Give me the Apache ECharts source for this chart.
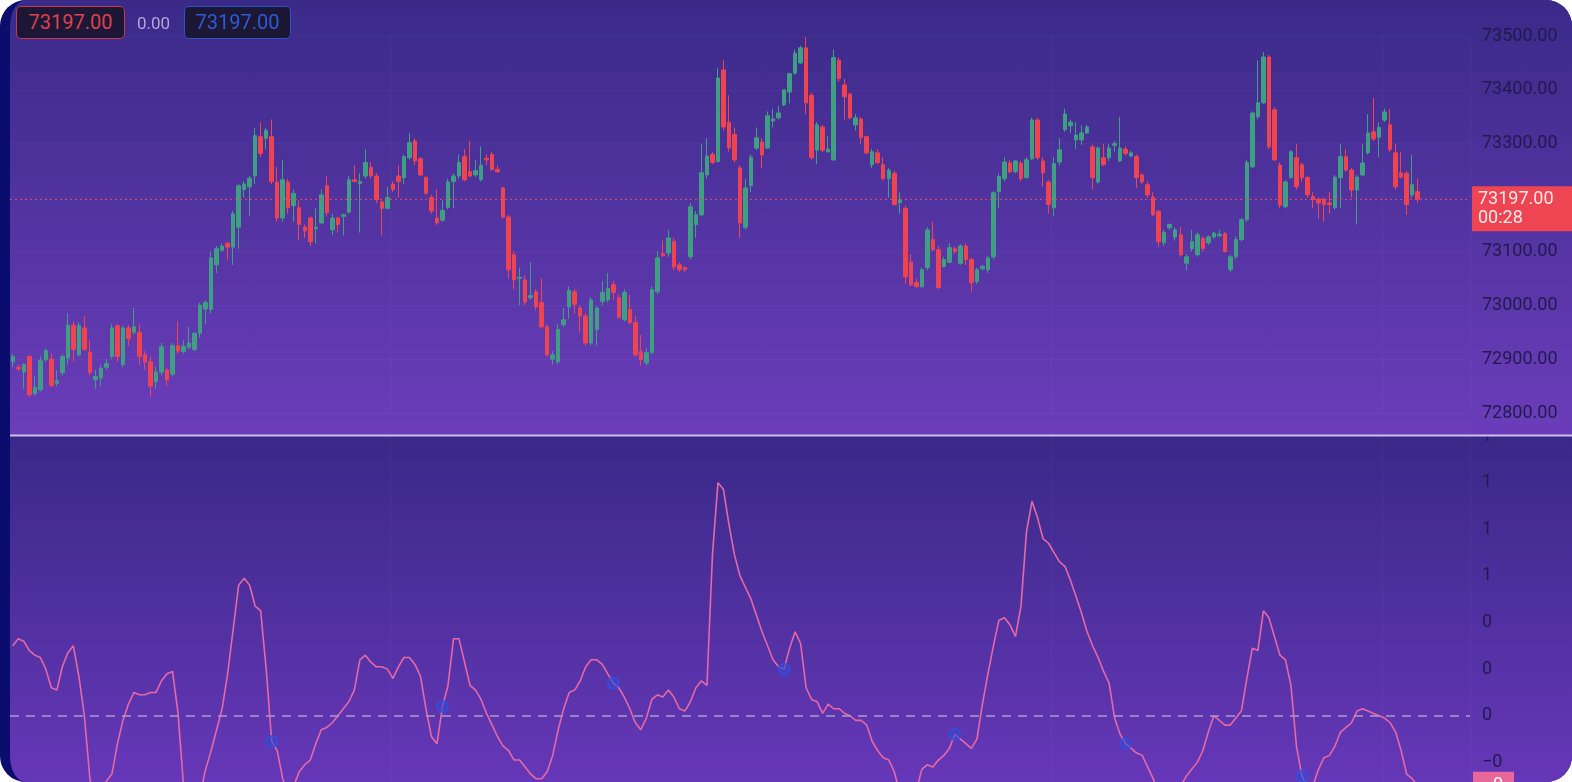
<!DOCTYPE html>
<html>
<head>
<meta charset="utf-8">
<script src="https://cdn.jsdelivr.net/npm/echarts@6/dist/echarts.min.js"></script>
<style>
  html, body { margin: 0; padding: 0; background: #ffffff; }
  #wrap {
    position: absolute; left: 0; top: 0; width: 1572px; height: 782px;
    box-sizing: border-box; border-left: 10px solid #0a0d6e;
    border-radius: 26px; overflow: hidden; background: #0a0d6e;
  }
  #topbg { position: absolute; left: 0; top: 0; width: 1562px; height: 436px;
    background: linear-gradient(180deg, #3a2a88 0%, #6b3dba 100%); }
  #botbg { position: absolute; left: 0; top: 436px; width: 1562px; height: 346px;
    background: linear-gradient(180deg, #392987 0%, #6637b8 100%); }
  #chart { position: absolute; left: 0; top: 0; width: 1562px; height: 782px; }
  .box { position: absolute; top: 6px; height: 31px; border-radius: 5px; background: #1b1734;
    font-family: Roboto, "Noto Sans", sans-serif; font-size: 20px; line-height: 31px; text-align: center; }
  #b1 { left: 6px; width: 107px; border: 1.5px solid #c23a4c; color: #de4150; }
  #b2 { left: 174px; width: 105px; border: 1.5px solid #2d52c4; color: #2f5bd6; }
  #chg { position: absolute; left: 127px; top: 6px; height: 34px; line-height: 34px;
    font-family: Roboto, "Noto Sans", sans-serif; font-size: 17px; color: #b3a6d8; }
</style>
</head>
<body>
<div id="wrap">
  <div id="topbg"></div>
  <div id="botbg"></div>
  <div id="chart"></div>
  <div class="box" id="b1"></div>
  <div id="chg"></div>
  <div class="box" id="b2"></div>
</div>
<script>
// ---------- DATA ----------
const lastPrice = 73197;
const priceChange = 0.00;
const timerText = '00:28';
const priceTicks = [72800, 72900, 73000, 73100, 73200, 73300, 73400, 73500];
const oscTicks = [-0.4, -0.2, 0, 0.2, 0.4, 0.6, 0.8, 1.0, 1.2];
const emptySlots = 9;

// [open, close, low, high]
const candles = [
[72895,72905,72885,72910],[72885,72882,72878,72890],[72876,72890,72845,72892],[72905,72834,72830,72907],
[72836,72848,72832,72870],[72843,72898,72840,72905],[72899,72916,72895,72920],[72900,72851,72848,72910],
[72855,72860,72850,72880],[72875,72905,72870,72910],[72902,72963,72890,72985],[72963,72918,72895,72970],
[72908,72963,72905,72968],[72958,72918,72915,72980],[72913,72875,72870,72935],[72862,72868,72845,72880],
[72865,72883,72850,72890],[72885,72892,72880,72900],[72905,72958,72900,72965],[72962,72905,72895,72965],
[72890,72958,72885,72962],[72958,72938,72925,72963],[72950,72960,72945,72995],[72950,72905,72890,72965],
[72908,72895,72880,72915],[72895,72850,72830,72905],[72858,72876,72845,72885],[72876,72923,72870,72930],
[72880,72862,72850,72885],[72872,72925,72868,72930],[72925,72915,72910,72970],[72914,72924,72910,72935],
[72922,72930,72918,72960],[72918,72948,72915,72950],[72948,73000,72940,73005],[72993,73005,72965,73010],
[72992,73088,72985,73100],[73075,73105,73060,73110],[73102,73110,73100,73115],[73115,73108,73085,73118],
[73108,73170,73075,73175],[73145,73222,73105,73225],[73215,73225,73200,73230],[73220,73236,73165,73240],
[73240,73315,73225,73330],[73313,73282,73275,73340],
[73310,73325,73290,73330],[73313,73230,73225,73345],[73229,73162,73155,73257],[73162,73233,73155,73270],
[73229,73181,73170,73235],[73185,73208,73155,73215],[73181,73150,73120,73195],[73145,73138,73125,73150],
[73162,73118,73110,73165],[73142,73145,73115,73180],[73153,73205,73150,73215],[73222,73172,73165,73240],
[73140,73162,73130,73170],[73162,73150,73135,73165],[73165,73168,73130,73170],[73173,73233,73170,73240],
[73233,73230,73228,73260],[73226,73230,73135,73245],[73240,73265,73235,73290],[73256,73240,73235,73265],
[73240,73196,73190,73245],[73192,73180,73130,73195],[73180,73200,73178,73220],[73225,73215,73210,73230],
[73240,73230,73200,73260],[73237,73276,73225,73280],[73274,73302,73270,73320],[73305,73268,73260,73310],
[73272,73242,73240,73275],[73237,73208,73205,73240],[73200,73175,73170,73205],[73162,73153,73148,73215],
[73158,73176,73155,73195],[73182,73229,73178,73235],[73230,73240,73180,73245],[73240,73265,73235,73280],
[73276,73233,73230,73290],[73248,73240,73238,73305],[73242,73250,73238,73270],[73233,73260,73230,73295],
[73273,73270,73260,73280],[73280,73252,73250,73285],[73252,73248,73245,73260],[73218,73164,73160,73220],
[73164,73066,73050,73168],
[73094,73047,73030,73100],[73050,73052,73000,73070],[73047,73006,73000,73055],[73014,73018,73010,73080],
[73025,72997,72990,73030],[73005,72960,72958,73050],[72960,72908,72905,72965],[72900,72908,72890,72915],
[72895,72955,72890,72965],[72964,72973,72960,72995],[72997,73028,72975,73035],[73025,73002,72985,73030],
[72995,72980,72950,73000],[72980,72930,72925,72985],[72930,73010,72925,73015],[72955,72995,72925,72998],
[73007,73024,73000,73045],[73010,73031,73005,73060],[73038,73024,73010,73045],[73014,72977,72975,73020],
[72973,73024,72970,73030],[72992,72968,72965,73020],[72968,72908,72905,72980],[72914,72899,72888,72945],
[72893,72912,72888,72920],[72912,73029,72910,73035],[73025,73088,73020,73100],[73096,73092,73090,73120],
[73097,73125,73090,73140],[73118,73071,73065,73125],[73075,73066,73062,73080],[73070,73066,73062,73072],
[73090,73183,73085,73190],[73150,73168,73125,73175],[73168,73246,73165,73300],[73242,73277,73235,73310],
[73280,73265,73262,73285],[73267,73422,73265,73440],[73437,73331,73325,73455],[73340,73292,73285,73390],
[73317,73270,73265,73330],[73255,73153,73125,73260],
[73145,73218,73140,73235],[73222,73275,73210,73280],[73292,73311,73288,73330],[73303,73279,73255,73310],
[73292,73352,73290,73360],[73342,73346,73330,73365],[73348,73357,73345,73370],[73372,73400,73370,73400],
[73396,73430,73375,73432],[73431,73468,73428,73475],[73450,73478,73448,73482],[73478,73376,73355,73498],
[73390,73274,73270,73395],[73288,73335,73262,73340],[73331,73288,73285,73335],[73285,73290,73283,73315],
[73270,73460,73268,73475],[73455,73421,73415,73460],[73409,73387,73345,73420],[73392,73348,73345,73395],
[73335,73348,73325,73355],[73346,73311,73300,73350],[73313,73283,73280,73315],[73261,73285,73255,73290],
[73283,73265,73262,73290],[73261,73235,73232,73275],[73235,73251,73200,73255],[73245,73187,73185,73250],
[73191,73196,73170,73210],[73180,73053,73040,73185],[73080,73038,73035,73095],[73042,73035,73032,73050],
[73035,73066,73032,73070],[73070,73140,73065,73145],[73122,73103,73100,73155],[73103,73033,73030,73110],
[73072,73085,73070,73090],[73080,73107,73078,73115],[73105,73100,73095,73110],[73078,73110,73075,73113],
[73110,73085,73075,73115],[73085,73042,73025,73088],[73044,73066,73040,73070],[73068,73072,73065,73075],
[73066,73088,73060,73092],
[73090,73209,73085,73212],[73211,73239,73180,73245],[73235,73266,73230,73275],[73264,73248,73245,73270],
[73248,73268,73245,73270],[73264,73235,73230,73268],[73237,73270,73235,73275],[73272,73344,73270,73348],
[73344,73274,73270,73348],[73268,73246,73220,73275],[73229,73187,73170,73232],[73181,73263,73165,73275],
[73266,73289,73260,73310],[73326,73355,73322,73365],[73333,73340,73320,73345],[73307,73316,73290,73340],
[73307,73320,73298,73335],[73320,73331,73318,73335],[73294,73237,73215,73298],[73229,73292,73226,73295],
[73274,73261,73258,73300],[73274,73292,73268,73300],[73297,73300,73285,73305],[73268,73292,73266,73350],
[73290,73282,73278,73295],[73277,73283,73275,73287],[73276,73237,73218,73280],[73242,73229,73225,73245],
[73224,73205,73200,73230],[73201,73168,73165,73210],[73174,73118,73108,73178],[73116,73135,73110,73140],
[73144,73150,73140,73152],[73127,73140,73120,73145],[73131,73094,73090,73145],[73078,73090,73065,73095],
[73105,73118,73100,73140],[73094,73131,73090,73135],[73124,73105,73100,73128],[73116,73127,73112,73130],
[73127,73134,73124,73137],[73129,73132,73127,73140],[73133,73100,73098,73136],[73066,73090,73062,73094],
[73090,73122,73085,73128],
[73122,73159,73118,73162],[73159,73265,73155,73270],[73257,73357,73255,73360],[73350,73376,73345,73455],
[73376,73461,73374,73470],[73461,73294,73290,73465],[73363,73270,73268,73368],[73260,73186,73180,73265],
[73183,73229,73180,73232],[73237,73285,73235,73288],[73274,73220,73215,73300],[73261,73237,73230,73265],
[73237,73205,73200,73240],[73202,73196,73180,73210],[73197,73190,73160,73200],[73197,73187,73155,73200],
[73190,73187,73170,73210],[73181,73238,73178,73242],[73237,73276,73180,73300],[73276,73251,73248,73290],
[73251,73214,73200,73255],[73214,73238,73150,73242],[73242,73264,73240,73300],[73283,73320,73280,73355],
[73322,73309,73305,73385],[73312,73330,73275,73340],[73344,73359,73340,73365],[73335,73289,73285,73365],
[73283,73220,73215,73300],[73246,73238,73235,73285],[73245,73187,73168,73250],[73205,73224,73200,73280],
[73211,73197,73190,73235]
];

const oscillator = [
0.30,0.33,0.32,0.28,0.26,0.25,0.20,0.12,0.11,0.21,0.27,0.30,0.17,0.00,-0.27,-0.38,-0.36,-0.28,-0.25,-0.12,
-0.02,0.05,0.10,0.09,0.09,0.10,0.10,0.15,0.18,0.19,0.01,-0.30,-0.40,-0.42,-0.34,-0.23,-0.15,-0.06,0.03,0.18,
0.37,0.56,0.59,0.56,0.47,0.45,0.20,-0.11,-0.15,-0.27,-0.34,-0.30,-0.24,-0.21,-0.19,-0.12,-0.06,-0.05,-0.03,0.00,
0.03,0.06,0.11,0.24,0.26,0.23,0.21,0.21,0.20,0.16,0.21,0.25,0.25,0.22,0.17,0.03,-0.09,-0.12,0.04,0.13,
0.33,0.33,0.23,0.13,0.11,0.07,0.01,-0.04,-0.09,-0.13,-0.15,-0.19,-0.19,-0.22,-0.25,-0.27,-0.27,-0.24,-0.17,-0.06,
0.03,0.10,0.11,0.15,0.21,0.24,0.24,0.22,0.18,0.14,0.12,0.08,0.03,-0.03,-0.06,-0.01,0.07,0.09,0.08,0.11,
0.08,0.03,0.02,0.06,0.12,0.15,0.13,0.69,1.00,0.97,0.82,0.69,0.60,0.55,0.50,0.43,0.36,0.30,0.24,0.21,
0.20,0.29,0.36,0.31,0.12,0.07,0.06,0.01,0.05,0.03,0.03,0.01,0.00,-0.02,-0.02,-0.04,-0.11,-0.15,-0.18,-0.19,
-0.24,-0.33,-0.38,-0.38,-0.32,-0.23,-0.21,-0.22,-0.19,-0.17,-0.14,-0.08,-0.10,-0.12,-0.14,-0.10,0.05,0.18,0.30,0.41,
0.42,0.39,0.34,0.47,0.79,0.92,0.85,0.76,0.74,0.70,0.66,0.64,0.58,0.51,0.44,0.36,0.30,0.25,0.19,0.14,
-0.01,-0.08,-0.12,-0.14,-0.16,-0.17,-0.22,-0.27,-0.34,-0.38,-0.39,-0.36,-0.30,-0.26,-0.23,-0.20,-0.15,-0.07,0.00,-0.02,
-0.04,-0.04,-0.01,0.02,0.16,0.29,0.28,0.45,0.42,0.34,0.26,0.24,0.13,-0.13,-0.26,-0.30,-0.30,-0.23,-0.18,-0.17,
-0.13,-0.07,-0.05,-0.03,0.02,0.03,0.02,0.01,0.00,-0.01,-0.03,-0.07,-0.15,-0.25,-0.27,-0.30
];

const markerIdx = [47, 78, 109, 140, 171, 202, 234];
const categories = candles.map((_, i) => String(i)).concat(Array.from({length: emptySlots}, (_, i) => 'e' + i));

// ---------- CHART ----------
const UP = '#3e9f82', DOWN = '#ef4350';
const FONT = 'Roboto, "Noto Sans", sans-serif';
const vLines = [69, 189, 249];
const splitCol = 'rgba(255,255,255,0.03)';

document.getElementById('b1').textContent = lastPrice.toFixed(2);
document.getElementById('b2').textContent = lastPrice.toFixed(2);
document.getElementById('chg').textContent = priceChange.toFixed(2);

const chart = echarts.init(document.getElementById('chart'), null, {renderer: 'canvas'});
const oscLast = oscillator[oscillator.length - 1];

const option = {
  animation: false,
  backgroundColor: 'transparent',
  grid: [
    {left: 0, width: 1460, top: 36, height: 377, outerBoundsMode: 'none', containLabel: false},
    {left: 0, width: 1460, top: 436, height: 373, outerBoundsMode: 'none', containLabel: false}
  ],
  xAxis: [0, 1].map(k => ({
    type: 'category', gridIndex: k, data: categories, boundaryGap: true,
    axisLine: {show: false}, axisTick: {show: false}, axisLabel: {show: false},
    splitLine: {show: true, interval: (i) => vLines.includes(i), lineStyle: {color: 'rgba(255,255,255,0.04)', width: 1}}
  })),
  yAxis: [
    {
      type: 'value', gridIndex: 0, position: 'right',
      min: priceTicks[0], max: priceTicks[priceTicks.length - 1], interval: 100,
      axisLine: {show: false}, axisTick: {show: false},
      axisLabel: {margin: 12, color: '#221a4e', fontSize: 18, fontFamily: FONT,
        formatter: v => v.toFixed(2)},
      splitLine: {show: true, lineStyle: {color: splitCol, width: 1}}
    },
    {
      type: 'value', gridIndex: 1, position: 'right',
      min: oscTicks[0], max: oscTicks[oscTicks.length - 1], interval: 0.2,
      axisLine: {show: false}, axisTick: {show: false},
      axisLabel: {margin: 12, color: '#221a4e', fontSize: 18, fontFamily: FONT,
        formatter: v => v.toFixed(0).replace('-', '\u2212')},
      splitLine: {show: false}
    }
  ],
  series: [
    {
      type: 'candlestick', xAxisIndex: 0, yAxisIndex: 0,
      data: candles, barWidth: 4,
      itemStyle: {color: UP, color0: DOWN, borderColor: UP, borderColor0: DOWN, borderWidth: 1},
      markLine: {
        silent: true, symbol: ['none', 'none'],
        data: [{yAxis: lastPrice}],
        lineStyle: {type: [2, 3], color: '#e8465a', width: 1},
        label: {show: false}
      }
    },
    {
      type: 'line', xAxisIndex: 1, yAxisIndex: 1, data: oscillator,
      showSymbol: false, smooth: false,
      lineStyle: {color: '#e668a6', width: 1.6},
      markLine: {
        silent: true, symbol: ['none', 'none'],
        data: [{yAxis: 0}],
        lineStyle: {type: [9, 7], color: '#a89cc6', width: 1.5},
        label: {show: false}
      },
      z: 3
    },
    {
      type: 'scatter', xAxisIndex: 1, yAxisIndex: 1,
      data: markerIdx.map(i => [i, oscillator[i]]),
      symbol: 'circle', symbolSize: 11,
      itemStyle: {color: 'rgba(52,72,210,0.75)', borderColor: '#3350dc', borderWidth: 2},
      z: 4
    }
  ]
};
chart.setOption(option);

const yP = chart.convertToPixel({yAxisIndex: 0}, lastPrice);
const yO = chart.convertToPixel({yAxisIndex: 1}, oscLast);
const tagX = 1462;
chart.setOption({
  graphic: [
    {type: 'rect', id: 'cover', z: 50, shape: {x: 1462, y: 422, width: 110, height: 13}, style: {fill: '#6a3cb9'}},
    {type: 'rect', id: 'sep', z: 51, shape: {x: 0, y: 434.5, width: 1562, height: 2}, style: {fill: '#cbbff0'}},
    {type: 'rect', id: 'ptag', z: 60, shape: {x: tagX, y: yP - 13, width: 100, height: 45}, style: {fill: '#ef4452'}},
    {type: 'text', id: 'ptag1', z: 61, x: tagX + 6, y: yP, style: {text: lastPrice.toFixed(2), fill: '#ffe9ec', font: '18px ' + FONT, verticalAlign: 'middle'}},
    {type: 'text', id: 'ptag2', z: 61, x: tagX + 6, y: yP + 19, style: {text: timerText, fill: '#ffe9ec', font: '18px ' + FONT, verticalAlign: 'middle'}},
    {type: 'rect', id: 'otag', z: 60, shape: {x: 1463, y: yO - 14, width: 41, height: 28}, style: {fill: '#e8689a'}},
    {type: 'text', id: 'otag1', z: 61, x: 1483, y: yO, style: {text: oscLast.toFixed(0).replace('-', '\u2212'), fill: '#ffffff', font: '18px ' + FONT, align: 'center', verticalAlign: 'middle'}}
  ]
});
</script>
</body>
</html>
